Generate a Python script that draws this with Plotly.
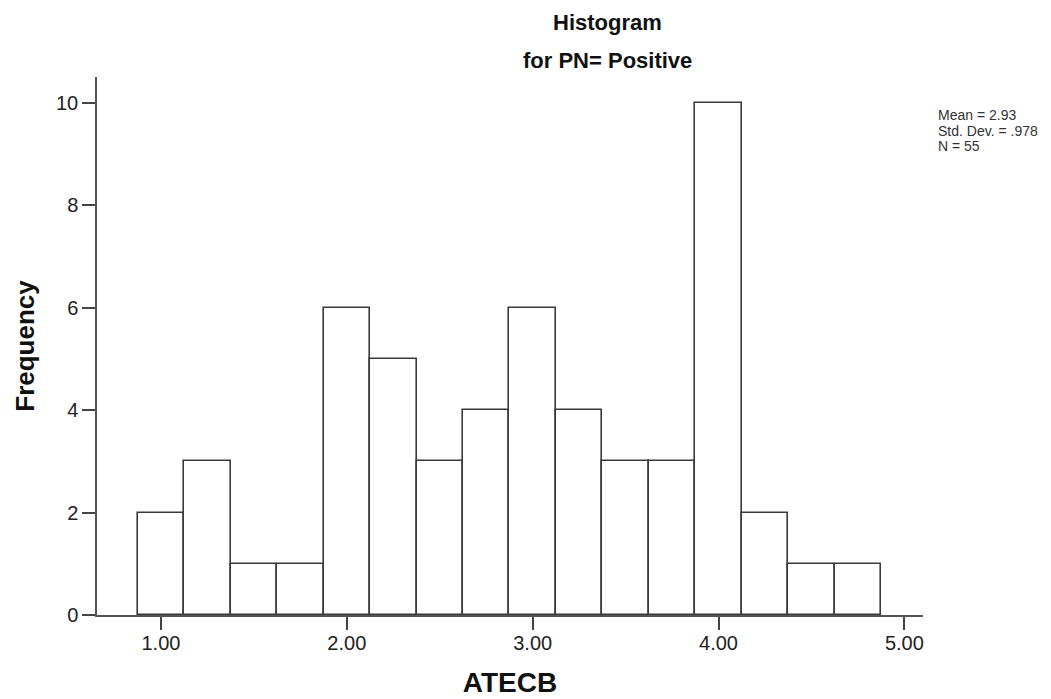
import plotly.graph_objects as go

bin_centers = [1.00, 1.25, 1.50, 1.75, 2.00, 2.25, 2.50, 2.75, 3.00, 3.25, 3.50, 3.75, 4.00, 4.25, 4.50, 4.75]
counts = [2, 3, 1, 1, 6, 5, 3, 4, 6, 4, 3, 3, 10, 2, 1, 1]
x_ticks = [1, 2, 3, 4, 5]
x_tick_labels = ["1.00", "2.00", "3.00", "4.00", "5.00"]
y_ticks = [0, 2, 4, 6, 8, 10]
stats_lines = ["Mean = 2.93", "Std. Dev. = .978", "N = 55"]
bin_width = 0.25

L, R, T, B = 97, 128, 77, 84
PW, PH = 1051 - L - R, 699 - T - B

def px(xp):
    return (xp - L) / PW

def py(yp):
    return (699 - B - yp) / PH

fig = go.Figure()
fig.add_trace(go.Bar(
    x=bin_centers, y=counts, width=bin_width,
    marker=dict(color="white", line=dict(color="#3a3a3a", width=1.6)),
    showlegend=False, hoverinfo="x+y",
))

fig.update_layout(
    width=1051, height=699,
    margin=dict(l=L, r=R, t=T, b=B, autoexpand=False),
    paper_bgcolor="white", plot_bgcolor="white",
    font=dict(family="Liberation Sans, Arial, sans-serif", color="#111111"),
    xaxis=dict(
        range=[0.656, 5.10], tickvals=x_ticks, ticktext=x_tick_labels,
        showgrid=False, zeroline=False, showline=True, linecolor="#555555", linewidth=1.5,
        ticks="outside", ticklen=13, tickwidth=1.5, tickcolor="#444444",
        tickfont=dict(size=20, color="#222222"), automargin=False,
        ticklabelstandoff=-4,
        title=dict(text="<b>ATECB</b>", font=dict(size=28, color="#111111"), standoff=20),
    ),
    yaxis=dict(
        range=[0, 10.5], tickvals=y_ticks,
        showgrid=False, zeroline=False, showline=True, linecolor="#555555", linewidth=1.5,
        ticks="outside", ticklen=13, tickwidth=1.5, tickcolor="#444444",
        tickfont=dict(size=20, color="#222222"), automargin=False,
        title=dict(text="<b>Frequency</b>", font=dict(size=26, color="#111111"), standoff=14),
    ),
    bargap=0,
)

fig.add_annotation(text="<b>Histogram</b>", xref="paper", yref="paper",
                   x=px(607), y=py(22), xanchor="center", yanchor="middle",
                   showarrow=False, font=dict(size=22, color="#111111"))
fig.add_annotation(text="<b>for PN= Positive</b>", xref="paper", yref="paper",
                   x=px(607), y=py(61), xanchor="center", yanchor="middle",
                   showarrow=False, font=dict(size=22, color="#111111"))
for i, line in enumerate(stats_lines):
    fig.add_annotation(text=line, xref="paper", yref="paper",
                       x=px(936), y=py(115 + 15.5 * i), xanchor="left", yanchor="middle",
                       align="left", showarrow=False, font=dict(size=14, color="#333333"))

fig.write_html("out.html")
